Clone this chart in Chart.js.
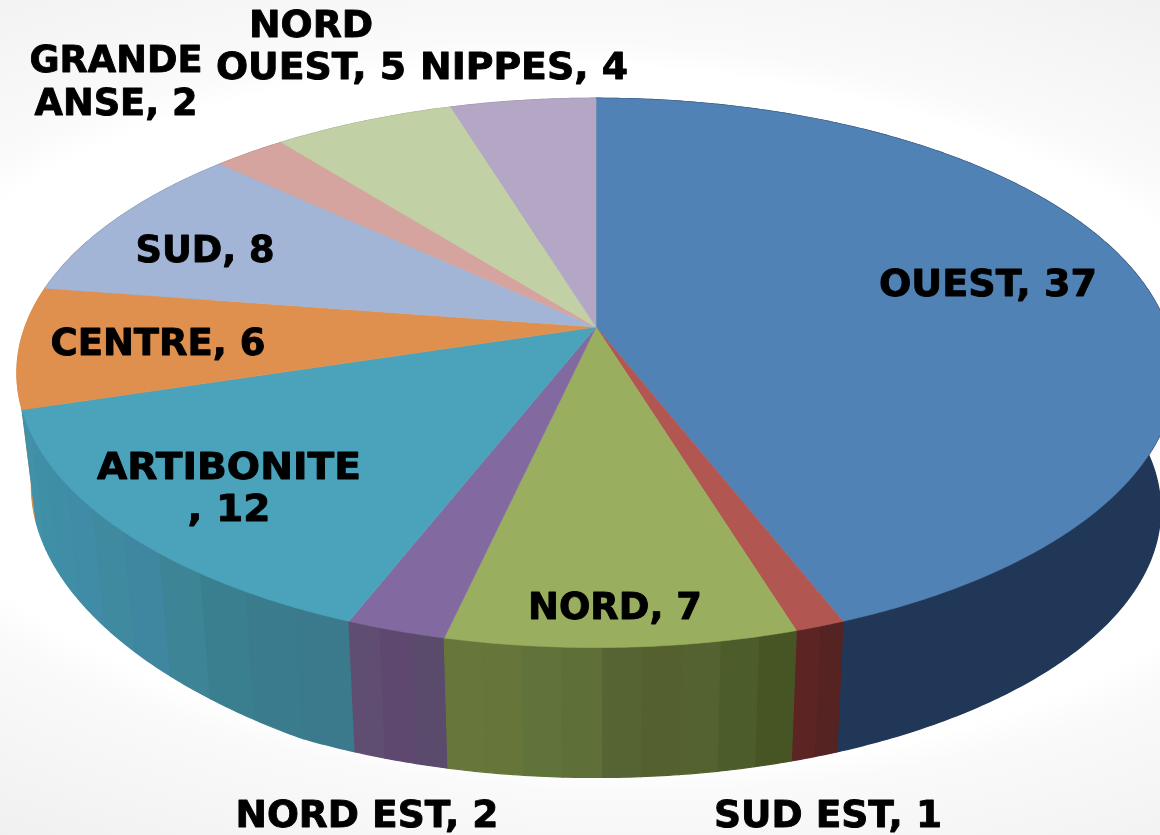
<!DOCTYPE html>
<html>
<head>
<meta charset="utf-8">
<style>
html,body{margin:0;padding:0;width:1160px;height:835px;overflow:hidden;background:#fff;}
#bg{position:absolute;left:-210px;top:-384px;width:1600px;height:1600px;transform:rotate(2.5deg);
background:radial-gradient(ellipse 1071px 530px at 800px 800px,#fff 0,#fff 66%,#fafafa 71%,#f0f0f0 100%);}
#wrap{position:absolute;left:0;top:0;width:1160px;height:835px;overflow:hidden}
canvas{display:block;position:relative}
</style>
<script src="https://cdn.jsdelivr.net/npm/chart.js@4"></script>
</head>
<body>
<div id="wrap"><div id="bg"></div>
<canvas id="c" width="1160" height="835"></canvas></div>
<script>
const categories = ['OUEST','SUD EST','NORD','NORD EST','ARTIBONITE','CENTRE','SUD','GRANDE ANSE','NORD OUEST','NIPPES'];
const values = [37,1,7,2,12,6,8,2,5,4];
const topColors = ['#5082b5','#b15650','#9aae5f','#826aa0','#4aa2bb','#e0904e','#a2b5d7','#d5a49f','#c2d1a5','#b4a7c6'];
// wall shades, in clockwise order (right to left along the front)
const wallBands = [
  ['#213757'],
  ['#552322','#5c2524'],
  ['#475525','#4c5c2b','#53622f','#55602f','#566433','#5e7038','#60733a','#66763a','#67763b'],
  ['#5a4a6c','#5f4870','#604e72'],
  ['#3a7a8c','#3a7c8e','#3a7f90','#3c8496','#3f86a0','#3f8a9e','#408ba6','#3f8ea6','#3f8fa6','#4191a9'],
  ['#d98b4a'],['#7f90ad'],['#a98380'],['#9aa683'],['#8f859e']
];
const labelLines = [
  ['OUEST, 37'],['SUD EST, 1'],['NORD, 7'],['NORD EST, 2'],['ARTIBONITE',', 12'],
  ['CENTRE, 6'],['SUD, 8'],['GRANDE','ANSE, 2'],['NORD','OUEST, 5'],['NIPPES, 4']
];
// label placement: centre x, first baseline y, widest line width, line height
const labelBoxes = [
  [988,296,218,42],[828,827,228,42],[615,619,174,42],[367,827,263,42],[229,479,264,42],
  [158,355,215,42],[205,262,139,42],[116,72,173,43],[311,37,190,42],[524,79,208,42]
];
// projection of the pie's unit disc onto the page
const P = {cx:596, cy:327, a:571, b:267, k:0.167, floorY:465, floorScale:0.975};
function topPoint(ang){
  const u=Math.cos(ang), v=Math.sin(ang), d=1-P.k*v;
  return [P.cx+P.a*u/d, P.cy+P.b*v/d];
}
function floorPoint(ang){
  const t=topPoint(ang), u=Math.cos(ang);
  const lift=22*Math.max(0,(-u-0.45)/0.5);
  return [P.cx+P.floorScale*(t[0]-P.cx), P.floorY+P.floorScale*(t[1]-P.cy)-lift];
}
const pie3d = {
  id:'pie3d',
  beforeDatasetDraw(){ return false; },
  afterDatasetsDraw(chart){
    const ctx=chart.ctx, arcs=chart.getDatasetMeta(0).data;
    const STEP=Math.PI/360;
    ctx.save();
    ctx.lineJoin='round';
    // side walls
    const quads=[];
    arcs.forEach((arc,i)=>{
      const bands=wallBands[i], s=arc.startAngle, e=arc.endAngle;
      bands.forEach((col,j)=>{
        const a0=s+(e-s)*j/bands.length, a1=s+(e-s)*(j+1)/bands.length;
        quads.push({col,a0,a1,mid:Math.sin((a0+a1)/2)});
      });
    });
    quads.sort((p,q)=>p.mid-q.mid);
    quads.forEach(q=>{
      const n=Math.max(1,Math.ceil((q.a1-q.a0)/STEP));
      ctx.beginPath();
      for(let t=0;t<=n;t++){const p=topPoint(q.a0+(q.a1-q.a0)*t/n); t?ctx.lineTo(p[0],p[1]):ctx.moveTo(p[0],p[1]);}
      for(let t=n;t>=0;t--){const p=floorPoint(q.a0+(q.a1-q.a0)*t/n); ctx.lineTo(p[0],p[1]);}
      ctx.closePath();
      ctx.fillStyle=q.col; ctx.strokeStyle=q.col; ctx.lineWidth=1.2;
      ctx.fill(); ctx.stroke();
    });
    // top faces
    arcs.forEach((arc,i)=>{
      const s=arc.startAngle,e=arc.endAngle,n=Math.max(2,Math.ceil((e-s)/STEP));
      ctx.beginPath(); ctx.moveTo(P.cx,P.cy);
      for(let t=0;t<=n;t++){const p=topPoint(s+(e-s)*t/n); ctx.lineTo(p[0],p[1]);}
      ctx.closePath();
      ctx.fillStyle=topColors[i]; ctx.strokeStyle=topColors[i]; ctx.lineWidth=0.6;
      ctx.fill(); ctx.stroke();
    });
    // labels
    ctx.fillStyle='#000'; ctx.strokeStyle='#000'; ctx.lineWidth=0.9;
    ctx.textAlign='center'; ctx.textBaseline='alphabetic';
    ctx.font='bold 37px "DejaVu Sans"';
    labelLines.forEach((lines,i)=>{
      const [x,y,w,lh]=labelBoxes[i];
      const widest=Math.max(...lines.map(l=>ctx.measureText(l).width));
      const sc=w/widest;
      lines.forEach((l,j)=>{
        ctx.save(); ctx.translate(x,y+j*lh); ctx.scale(sc,1);
        ctx.fillText(l,0,0); ctx.strokeText(l,0,0); ctx.restore();
      });
    });
    ctx.restore();
  }
};
new Chart(document.getElementById('c'),{
  type:'pie',
  data:{labels:categories,datasets:[{data:values,backgroundColor:topColors,borderWidth:0}]},
  options:{responsive:false,animation:false,plugins:{legend:{display:false},tooltip:{enabled:false}}},
  plugins:[pie3d]
});
</script>
</body>
</html>
